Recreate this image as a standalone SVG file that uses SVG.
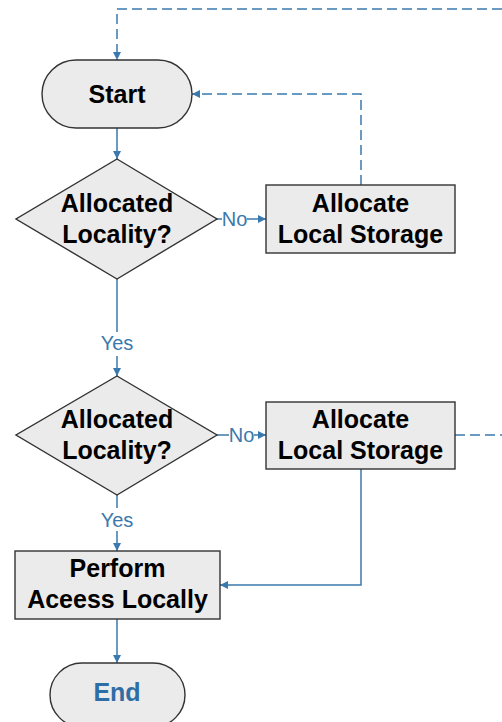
<svg xmlns="http://www.w3.org/2000/svg" width="502" height="722" viewBox="0 0 502 722">
  <style>
    .shape { fill: #ebebeb; stroke: #333333; stroke-width: 1.4; }
    .title { font-family: "Liberation Sans", Arial, sans-serif; font-weight: bold; font-size: 25px; fill: #000; text-anchor: middle; }
    .endtxt { fill: #2f6ea5; }
    .label { font-family: "Liberation Sans", Arial, sans-serif; font-size: 20px; fill: #3a79ad; text-anchor: middle; }
    .flow { fill: none; stroke: #3a79ad; stroke-width: 1.5; }
    .dash { stroke-dasharray: 10 5; }
  </style>
  <defs>
    <marker id="arrow" viewBox="0 0 10 10" refX="10" refY="5" markerWidth="8" markerHeight="8" markerUnits="userSpaceOnUse" orient="auto">
      <path d="M0,0 L10,5 L0,10 z" fill="#3a79ad"/>
    </marker>
  </defs>

  <rect width="502" height="722" fill="#ffffff"/>

  <!-- connectors -->
  <g id="connectors">
    <path class="flow dash" d="M502,9 H117 V60" marker-end="url(#arrow)"/>
    <path class="flow" d="M117,128 V159" marker-end="url(#arrow)"/>
    <path class="flow" d="M217,219 H222"/>
    <path class="flow" d="M247,219 H266" marker-end="url(#arrow)"/>
    <path class="flow dash" d="M361,185 V94 H192" marker-end="url(#arrow)"/>
    <path class="flow" d="M117,279 V332"/>
    <path class="flow" d="M117,356 V376" marker-end="url(#arrow)"/>
    <path class="flow" d="M217,435 H229"/>
    <path class="flow" d="M254,435 H266" marker-end="url(#arrow)"/>
    <path class="flow dash" d="M455,435 H502"/>
    <path class="flow" d="M361,469 V585 H220" marker-end="url(#arrow)"/>
    <path class="flow" d="M117,495 V508"/>
    <path class="flow" d="M117,531 V551" marker-end="url(#arrow)"/>
    <path class="flow" d="M117,619 V663" marker-end="url(#arrow)"/>
    <text class="label" x="234.5" y="226">No</text>
    <text class="label" x="241.5" y="442">No</text>
    <text class="label" x="117" y="349.5">Yes</text>
    <text class="label" x="117" y="526.5">Yes</text>
  </g>

  <g id="start">
    <rect class="shape" x="42" y="60" width="150" height="68" rx="34" ry="34"/>
    <text class="title" x="117" y="102.5">Start</text>
  </g>

  <g id="check1">
    <polygon class="shape" points="117,159 217,219 117,279 16,219"/>
    <text class="title" x="117" y="211.5">Allocated</text>
    <text class="title" x="117" y="242.5">Locality?</text>
  </g>

  <g id="alloc1">
    <rect class="shape" x="266" y="185" width="189" height="68"/>
    <text class="title" x="360.5" y="211.5">Allocate</text>
    <text class="title" x="360.5" y="242.5">Local Storage</text>
  </g>

  <g id="check2">
    <polygon class="shape" points="117,376 217,435 117,495 16,435"/>
    <text class="title" x="117" y="427.5">Allocated</text>
    <text class="title" x="117" y="458.5">Locality?</text>
  </g>

  <g id="alloc2">
    <rect class="shape" x="266" y="402" width="189" height="67"/>
    <text class="title" x="360.5" y="427.5">Allocate</text>
    <text class="title" x="360.5" y="458.5">Local Storage</text>
  </g>

  <g id="perform">
    <rect class="shape" x="15" y="551" width="205" height="68"/>
    <text class="title" x="117.5" y="577">Perform</text>
    <text class="title" x="117.5" y="608">Aceess Locally</text>
  </g>

  <g id="end">
    <rect class="shape" x="50" y="663" width="135" height="64" rx="32" ry="32"/>
    <text class="title endtxt" x="117" y="700.5">End</text>
  </g>
</svg>
